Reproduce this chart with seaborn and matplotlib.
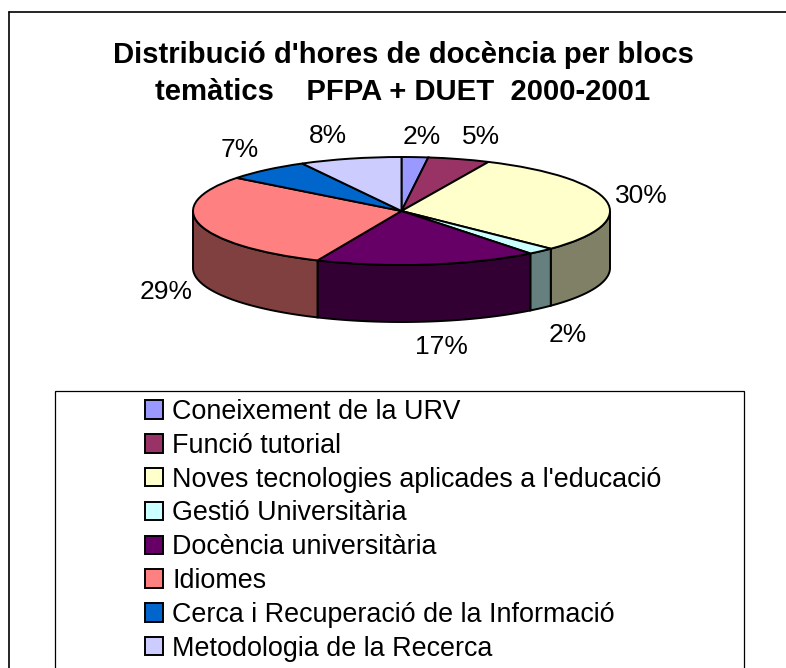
# -*- coding: utf-8 -*-
"""
Distribucio d'hores de docencia: pie with a fake 3D side wall
"""

import numpy as np
import seaborn as sns
import matplotlib
matplotlib.use('Agg')
import matplotlib.pyplot as plt
from matplotlib.lines import Line2D
from matplotlib.patches import Rectangle

categories = ['Coneixement de la URV', 'Funció tutorial',
              "Noves tecnologies aplicades a l'educació", 'Gestió Universitària',
              'Docència universitària', 'Idiomes',
              'Cerca i Recuperació de la Informació', 'Metodologia de la Recerca']
values = [2.05, 4.8, 30.45, 2.1, 17.2, 28.9, 6.6, 7.9]
hex_colors = ['#9999FF', '#993366', '#FFFFCC', '#CCFFFF',
              '#660066', '#FF8080', '#0066CC', '#CCCCFF']
title = "Distribució d'hores de docència per blocs\ntemàtics    PFPA + DUET  2000-2001"

# pixel layout of the reference
W, H = 786, 668
cx, cy = 401.5, 211
rx, ry = 208.5, 54
depth = 57
# label centres in pixels
label_px = [(422, 137), (481, 137), (641, 196), (568, 335),
            (441, 347), (166, 292), (240, 150), (328, 136)]

sns.set_theme(style='white')
plt.rcParams['font.family'] = ['Liberation Sans', 'DejaVu Sans']
palette = sns.color_palette(hex_colors)

fig = plt.figure(figsize=(W / 100, H / 100), dpi=100, facecolor='white')
ax = fig.add_axes([0, 0, 1, 1])

wedges, _ = ax.pie(values, colors=palette, startangle=90, counterclock=False,
                   wedgeprops={'edgecolor': 'black', 'linewidth': 1.4, 'zorder': 3})
ax.set_aspect('auto')
ax.set_xlim(-cx / rx, (W - cx) / rx)
ax.set_ylim((cy - H) / ry, cy / ry)
ax.axis('off')

# side wall, only the front half of the disc shows
edges = np.cumsum([0] + values) / sum(values) * 360
wall_h = depth / ry
for i, col in enumerate(palette):
    a, b = max(edges[i], 90), min(edges[i + 1], 270)
    if a >= b:
        continue
    t = np.radians(np.linspace(a, b, 60))
    x, y = np.sin(t), np.cos(t)
    dark = tuple(c * 0.5 for c in col)
    ax.fill(np.r_[x, x[::-1]], np.r_[y, y[::-1] - wall_h], facecolor=dark,
            edgecolor='black', linewidth=1.4, zorder=2)

for v, (px, py) in zip(values, label_px):
    ax.text((px - cx) / rx, (cy - py) / ry, f'{v:.0f}%', fontsize=19, color='black',
            ha='center', va='center', zorder=5)

fig.text(403 / W, 1 - 73.5 / H, title, fontsize=21.1, fontweight='bold', color='black',
         ha='center', va='center', linespacing=1.44)

# outer frame only on top and left, legend box runs off the bottom
fig.add_artist(Line2D([9 / W, 1], [1 - 12 / H, 1 - 12 / H], color='black', lw=1.2))
fig.add_artist(Line2D([9 / W, 9 / W], [0, 1 - 12 / H], color='black', lw=1.2))
fig.add_artist(Rectangle((55 / W, -0.02), (744 - 55) / W, 1 - 391 / H + 0.02, fill=False,
                         edgecolor='black', lw=0.9, transform=fig.transFigure))

leg = fig.legend(wedges, categories, loc='upper left',
                 bbox_to_anchor=(145 / W, 1 - 399 / H), frameon=False, fontsize=19.4,
                 borderpad=0, borderaxespad=0, labelspacing=0.29, handlelength=0.67,
                 handleheight=0.67, handletextpad=0.34, labelcolor='black')

fig.savefig('out.png', dpi=100)
